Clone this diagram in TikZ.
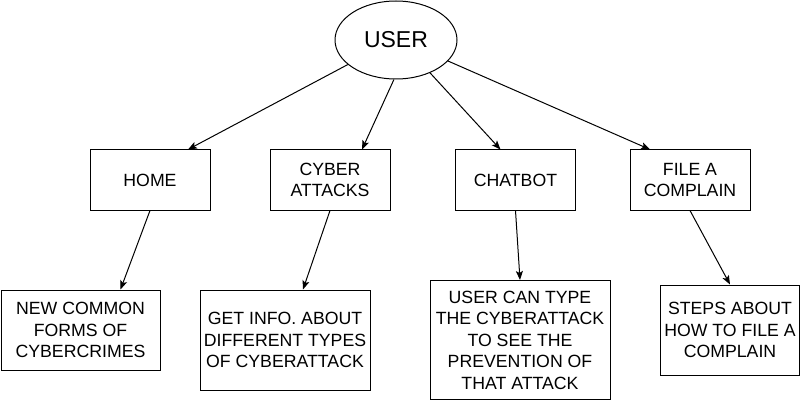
\documentclass[tikz,border=0pt]{standalone}
\usepackage{fontspec}
\setmainfont{Liberation Sans}
\usetikzlibrary{arrows.meta,shapes.geometric}
\begin{document}
\begin{tikzpicture}[x=1pt,y=-1pt,
  box/.style={draw=black,line width=1pt,rectangle,inner sep=0pt,align=center,
    font=\fontsize{17.7}{21.5}\selectfont},
  conn/.style={draw=black,line width=1pt,-{Stealth[length=9pt,width=7pt,inset=2pt]}}]
\useasboundingbox[fill=white] (0,0) rectangle (801,401);
\node[draw=black,line width=1pt,ellipse,minimum width=122pt,minimum height=78pt,inner sep=0pt,
  font=\fontsize{23}{26}\selectfont] (user) at (396,40) {USER};
\node[box,minimum width=120pt,minimum height=60pt] (home) at (150,180) {HOME};
\node[box,minimum width=120pt,minimum height=60pt] (cyber) at (330,180) {CYBER\\ATTACKS};
\node[box,minimum width=120pt,minimum height=60pt] (chat) at (515.5,180) {CHATBOT};
\node[box,minimum width=120pt,minimum height=60pt] (file) at (690,180) {FILE A\\COMPLAIN};
\node[box,minimum width=159pt,minimum height=80pt] (news) at (80.5,330) {NEW COMMON\\FORMS OF\\CYBERCRIMES};
\node[box,minimum width=170pt,minimum height=100pt] (info) at (285,340) {GET INFO. ABOUT\\DIFFERENT TYPES\\OF CYBERATTACK};
\node[box,minimum width=180pt,minimum height=119pt] (typecan) at (520,340) {USER CAN TYPE\\THE CYBERATTACK\\TO SEE THE\\PREVENTION OF\\THAT ATTACK};
\node[box,minimum width=139pt,minimum height=90pt] (steps) at (730,330) {STEPS ABOUT\\HOW TO FILE A\\COMPLAIN};
\draw[conn] (user.207) -- ([xshift=38pt]home.north);
\draw[conn] (user.267) -- ([xshift=32pt]cyber.north);
\draw[conn] (user.316) -- ([xshift=-15pt]chat.north);
\draw[conn] (user.338) -- ([xshift=-40pt]file.north);
\draw[conn] (home.south) -- ([xshift=40pt]news.north);
\draw[conn] (cyber.south) -- ([xshift=18pt]info.north);
\draw[conn] (chat.south) -- (typecan.north);
\draw[conn] (file.south) -- (steps.north);
\end{tikzpicture}
\end{document}
